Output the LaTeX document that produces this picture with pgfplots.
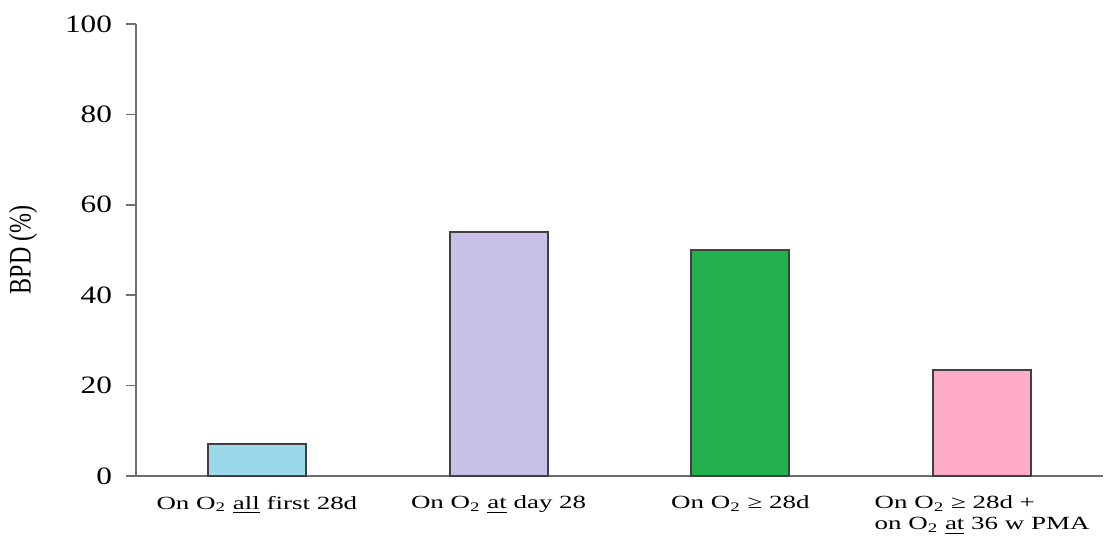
\documentclass[border=0pt]{standalone}
\usepackage{graphicx}
\usepackage{pgfplots}
\pgfplotsset{compat=1.18}
\usepackage{fontspec}
\setmainfont{Liberation Serif}
\newfontfamily\xfont[FakeStretch=1.45]{Liberation Serif}
\newfontfamily\yfont[FakeStretch=1.25]{Liberation Serif}
\definecolor{c1}{RGB}{155,217,234}
\definecolor{c2}{RGB}{200,192,230}
\definecolor{c3}{RGB}{34,177,76}
\definecolor{c4}{RGB}{255,170,200}
\definecolor{axgray}{RGB}{110,110,110}
\definecolor{edge}{RGB}{64,64,64}
\begin{document}
\begin{tikzpicture}
\begin{axis}[
  name=ax,
  scale only axis,
  width=483.5pt, height=226pt,
  xmin=-0.5, xmax=3.5, ymin=0, ymax=100,
  axis lines=left,
  axis line style={axgray, line width=0.8pt, -},
  xtick={0,1,2,3},
  xticklabels={
    {On O\textsubscript{2} \underline{all} first 28d},
    {On O\textsubscript{2} \underline{at} day 28},
    {On O\textsubscript{2} ≥ 28d},
    {On O\textsubscript{2} ≥ 28d +\\on O\textsubscript{2} \underline{at} 36 w PMA}},
  xticklabel style={font=\xfont\fontsize{9.3pt}{10.5pt}\selectfont, align=left, yshift=-1.5pt},
  xtick style={draw=none},
  minor xtick={-0.5,0.5,1.5,2.5,3.5},
  minor tick length=3pt,
  minor x tick style={axgray, line width=0.8pt},
  ytick={0,20,40,60,80,100},
  major tick length=5pt,
  tick align=outside,
  ytick style={axgray, line width=0.8pt},
  yticklabel style={font=\yfont\fontsize{12.5pt}{14pt}\selectfont, xshift=-3.5pt},
  /pgf/number format/assume math mode=true,
  ylabel={\scalebox{1}[1.3]{BPD (\%)}},
  ylabel style={font=\fontsize{12pt}{14pt}\selectfont, xshift=0pt, yshift=7pt},
  ybar, bar width=49pt, bar shift=0pt,
  clip=false,
]
\addplot[fill=c1, draw=edge, line width=1pt] coordinates {(0,7)};
\addplot[fill=c2, draw=edge, line width=1pt] coordinates {(1,54)};
\addplot[fill=c3, draw=edge, line width=1pt] coordinates {(2,50)};
\addplot[fill=c4, draw=edge, line width=1pt] coordinates {(3,23.5)};
\end{axis}
\pgfresetboundingbox
\path[use as bounding box] ([xshift=-68pt,yshift=-30pt]ax.south west) rectangle ([xshift=4.5pt,yshift=12pt]ax.north east);
\end{tikzpicture}
\end{document}
